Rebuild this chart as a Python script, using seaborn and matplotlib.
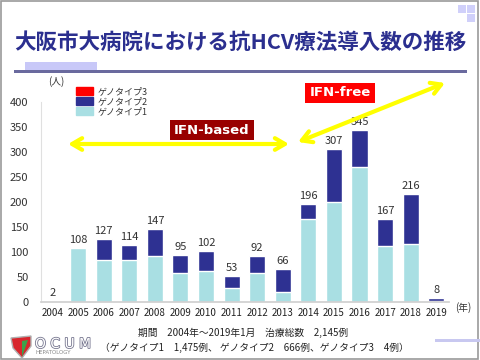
import matplotlib
matplotlib.use('Agg')
import matplotlib.pyplot as plt
import matplotlib.patches as mpatches
import matplotlib.patheffects as pe
import seaborn as sns
import pandas as pd

# data
years = [str(y) for y in range(2004, 2020)]
totals = [2, 108, 127, 114, 147, 95, 102, 53, 92, 66, 196, 307, 345, 167, 216, 8]
geno1 = [2, 108, 84, 84, 92, 59, 63, 29, 58, 21, 166, 201, 270, 112, 116, 3]
geno3 = [0, 0, 0, 0, 0, 0, 0, 0, 0, 0, 0, 0, 0, 0, 0, 0]
geno2 = [t - a - c for t, a, c in zip(totals, geno1, geno3)]

c1 = '#a9dfe3'
c2 = '#2e3192'
c3 = '#ff0000'
navy = '#2b2f8f'

sns.set_theme(style='white')
plt.rcParams['font.family'] = ['Noto Sans CJK JP', 'DejaVu Sans']

df = pd.DataFrame({'year': years, 'g1': geno1, 'g2': geno2, 'g3': geno3})
df['g12'] = df['g1'] + df['g2']
df['g123'] = df['g12'] + df['g3']

fig = plt.figure(figsize=(4.8, 3.6), dpi=100)
fig.patches.append(mpatches.Rectangle((0.002, 0.003), 0.994, 0.994, transform=fig.transFigure,
                                      fill=False, edgecolor='#9a9a9a', lw=1.2))
# slide decorations
fig.patches.append(mpatches.Rectangle((25/480, 1-70/360), 72/480, 8/360, transform=fig.transFigure,
                                      color='#c8c8f8', lw=0))
fig.patches.append(mpatches.Rectangle((14/480, 1-72.5/360), 453/480, 2.5/360, transform=fig.transFigure,
                                      color='#6a6a9e', lw=0))
for (px, py) in [(458, 5), (467, 5), (467, 14)]:
    fig.patches.append(mpatches.Rectangle((px/480, 1-(py+8)/360), 8/480, 8/360, transform=fig.transFigure,
                                          color='#d0d0fa', lw=0))
fig.patches.append(mpatches.Rectangle((435/480, 1-342/360), 45/480, 3/360, transform=fig.transFigure,
                                      color='#c8c8f0', lw=0))

fig.text(0.5, 1-42/360, '大阪市大病院における抗HCV療法導入数の推移', ha='center', va='center',
         fontsize=15.5, fontweight='bold', color=navy)

ax = fig.add_axes([41/480, 58/360, 408/480, 200/360])
sns.barplot(data=df, x='year', y='g123', color=c3, width=0.63, saturation=1, ax=ax)
sns.barplot(data=df, x='year', y='g12', color=c2, width=0.63, saturation=1, ax=ax)
sns.barplot(data=df, x='year', y='g1', color=c1, width=0.63, saturation=1, ax=ax)
ax.bar_label(ax.containers[0], labels=[str(t) for t in totals], padding=2, fontsize=8, color='#333333')

ax.set_ylim(0, 400)
ax.set_xlim(-0.45, 15.5)
ax.set_yticks(range(0, 401, 50))
ax.set_xlabel('')
ax.set_ylabel('')
ax.tick_params(axis='y', labelsize=8, colors='#333333', length=3, width=0.6, pad=6)
ax.tick_params(axis='x', labelsize=7, colors='#222222', length=0, pad=4)
ax.tick_params(axis='y', color='#d0d0d0')
for s in ['top', 'right']:
    ax.spines[s].set_visible(False)
ax.spines['left'].set_color('#e0e0e0')
ax.spines['bottom'].set_color('#d0d0d0')
ax.spines['left'].set_linewidth(0.8)
ax.set_facecolor('none')

fig.text(48/480, 1-82/360, '(人)', fontsize=7, color='#333333', va='center')
fig.text(455/480, 1-308/360, '(年)', fontsize=7, color='#333333', va='center')

handles = [mpatches.Patch(color=c3, label='ゲノタイプ3'),
           mpatches.Patch(color=c2, label='ゲノタイプ2'),
           mpatches.Patch(color=c1, label='ゲノタイプ1')]
fig.legend(handles=handles, loc='upper left', bbox_to_anchor=(70/480, 1-81/360), frameon=False,
           fontsize=6.5, handlelength=1.8, handleheight=0.9, labelspacing=0.1, handletextpad=0.5,
           borderpad=0.2, labelcolor='#333333')

# treatment era arrows
arrow_kw = dict(arrowstyle='<->,head_length=0.6,head_width=0.35', color='#ffff00', lw=3,
                shrinkA=0, shrinkB=0)
ax.annotate('', xy=(68/480, 1-144/360), xytext=(289/480, 1-144/360),
            xycoords='figure fraction', textcoords='figure fraction', arrowprops=arrow_kw)
ax.annotate('', xy=(298/480, 1-142/360), xytext=(445/480, 1-83/360),
            xycoords='figure fraction', textcoords='figure fraction', arrowprops=arrow_kw)
fig.text(212/480, 1-130/360, 'IFN-based', ha='center', va='center', fontsize=9.5, fontweight='bold',
         color='white', family=['DejaVu Sans'],
         bbox=dict(boxstyle='square,pad=0.3', fc='#990000', ec='none'))
fig.text(340/480, 1-93/360, 'IFN-free', ha='center', va='center', fontsize=9.5, fontweight='bold',
         color='white', family=['DejaVu Sans'],
         bbox=dict(boxstyle='square,pad=0.3', fc='#ff0000', ec='none'))

# footer
fig.text(243/480, 1-333/360, '期間　2004年～2019年1月　治療総数　2,145例', ha='center', va='center',
         fontsize=7, color='#222222')
fig.text(100/480, 1-348/360, '（ゲノタイプ1　1,475例、 ゲノタイプ2　666例、ゲノタイプ3　4例）', ha='left',
         va='center', fontsize=7, color='#222222')

# logo
shield = mpatches.Polygon([(11/480, 1-338/360), (31/480, 1-336/360), (31/480, 1-346/360),
                           (22/480, 1-358/360), (13/480, 1-348/360)], closed=True,
                          transform=fig.transFigure, fc='#d8262d', ec='#b0b0b0', lw=1)
fig.patches.append(shield)
fig.patches.append(mpatches.Polygon([(22/480, 1-341/360), (28/480, 1-340/360), (22/480, 1-357/360)],
                                    closed=True, transform=fig.transFigure, fc='#3aa24a', lw=0))
fig.text(35/480, 1-344/360, 'O C U M', fontsize=10, color='white', va='center', family=['DejaVu Sans'],
         path_effects=[pe.withStroke(linewidth=1.2, foreground='#777790')])
fig.text(36/480, 1-353/360, 'HEPATOLOGY', fontsize=4, color='#888888', va='center', family=['DejaVu Sans'])

fig.savefig('out.png', dpi=100)
